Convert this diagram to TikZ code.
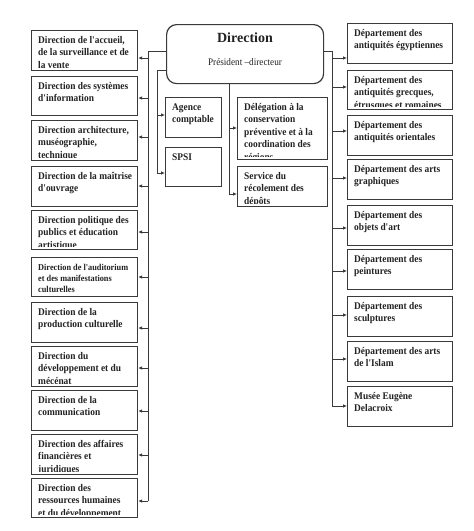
\documentclass[tikz,border=0pt]{standalone}
\usepackage{fontspec}
\setmainfont{Liberation Serif}
\newfontfamily\boxfont[FakeStretch=0.92]{Liberation Serif}
\usetikzlibrary{arrows.meta}
\definecolor{ln}{HTML}{3A3A3A}
\definecolor{tx}{HTML}{222222}
\tikzset{
  boxst/.style={draw=ln, line width=1.2pt, rectangle, inner sep=0pt, fill=white},
  txt/.style={inner sep=0pt, align=left, text=tx, font={\boxfont\fontsize{10.2}{12.5}\selectfont\bfseries}},
  small/.style={font={\boxfont\fontsize{9}{11}\selectfont\bfseries}},
  conn/.style={draw=ln, line width=0.9pt},
  arr/.style={conn, -{Latex[length=4pt,width=3.6pt]}}
}
\newcommand\mybox[7][]{%
  \node[boxst, minimum width=#5pt, minimum height=#6pt, anchor=north west] (#2) at (#3,#4) {};
  \begin{scope}
    \clip ([xshift=1pt,yshift=3.5pt]#2.south west) rectangle ([xshift=-1pt,yshift=-1pt]#2.north east);
    \node[txt, #1, anchor=north west] at ([xshift=7pt,yshift=-4pt]#2.north west) {\rule{0pt}{9pt}#7};
  \end{scope}}
\begin{document}
\begin{tikzpicture}[x=1pt,y=-1pt]
\useasboundingbox[fill=white] (0,0) rectangle (474,531);
% Direction
\node[draw=ln, line width=1.2pt, rounded corners=10pt, minimum width=157pt, minimum height=59pt, anchor=north west, inner sep=0pt] (dir) at (166,24) {};
\node[inner sep=0pt, text=tx, font={\fontsize{14}{15}\selectfont\bfseries}] (dirt) at (245,38) {Direction};
\node[inner sep=0pt, text=tx, font={\boxfont\fontsize{10}{12}\selectfont}] (dirs) at (245,62) {Président –directeur};
% left column
\mybox{l1}{31}{30}{106}{40}{Direction de l'accueil,\\de la surveillance et de\\la vente}
\mybox{l2}{31}{76}{106}{39}{Direction des systèmes\\d'information}
\mybox{l3}{31}{120}{106}{40}{Direction architecture,\\muséographie,\\technique}
\mybox{l4}{31}{166}{106}{40}{Direction de la maîtrise\\d'ouvrage}
\mybox{l5}{31}{210}{106}{39}{Direction politique des\\publics et éducation\\artistique}
\mybox[small]{l6}{31}{257}{106}{39}{Direction de l'auditorium\\et des manifestations\\culturelles}
\mybox{l7}{31}{302}{106}{40}{Direction de la\\production culturelle}
\mybox{l8}{31}{346}{106}{40}{Direction du\\développement et du\\mécénat}
\mybox{l9}{31}{390}{106}{40}{Direction de la\\communication}
\mybox{l10}{31}{434}{106}{40}{Direction des affaires\\financières et\\juridiques}
\mybox{l11}{31}{478}{106}{39}{Direction des\\ressources humaines\\et du développement}
% middle
\mybox{ag}{165}{97}{56}{40}{Agence\\comptable}
\mybox{sp}{165}{147}{56}{39}{SPSI}
\mybox{de}{237}{97}{90}{62}{Délégation à la\\conservation\\préventive et à la\\coordination des\\régions}
\mybox{se}{237}{166}{90}{40}{Service du\\récolement des\\dépôts}
% right column
\mybox{r1}{347}{23}{105}{40}{Département des\\antiquités égyptiennes}
\mybox{r2}{347}{70}{105}{39}{Département des\\antiquités grecques,\\étrusques et romaines}
\mybox{r3}{347}{115}{105}{40}{Département des\\antiquités orientales}
\mybox{r4}{347}{159}{105}{40}{Département des arts\\graphiques}
\mybox{r5}{347}{205}{105}{40}{Département des\\objets d'art}
\mybox{r6}{347}{249}{105}{40}{Département des\\peintures}
\mybox{r7}{347}{296}{105}{40}{Département des\\sculptures}
\mybox{r8}{347}{341}{105}{40}{Département des arts\\de l'Islam}
\mybox{r9}{347}{386}{105}{40}{Musée Eugène\\Delacroix}
% left trunk
\coordinate (LT) at (148,51);
\coordinate (LB) at (148,501);
\draw[conn] (LT -| dir.west) -- (LT) -- (LB);
\foreach \n/\y in {l1/58,l2/98,l3/137,l4/186,l5/232,l6/277,l7/328,l8/368,l9/411,l10/455,l11/501}{
  \coordinate (c\n) at (148,\y);
  \draw[arr] (c\n) -- (c\n -| \n.east);
}
% inner left
\coordinate (IT) at (157,70);
\coordinate (IB) at (157,173);
\draw[conn] (IT -| dir.west) -- (IT) -- (IB);
\coordinate (cag) at (157,115);
\draw[arr] (cag) -- (cag -| ag.west);
\draw[arr] (IB) -- (IB -| sp.west);
% middle
\coordinate (MT) at (229,83);
\coordinate (MB) at (229,194);
\draw[conn] (MT) -- (MB);
\coordinate (cde) at (229,128);
\draw[arr] (cde) -- (cde -| de.west);
\draw[arr] (MB) -- (MB -| se.west);
% right trunk
\coordinate (RT) at (332,51);
\coordinate (RB) at (332,406);
\draw[conn] (RT -| dir.east) -- (RT) -- (RB);
\foreach \n/\y in {r1/58,r2/87,r3/131,r4/178,r5/228,r6/271,r7/315,r8/359,r9/406}{
  \coordinate (c\n) at (332,\y);
  \draw[arr] (c\n) -- (c\n -| \n.west);
}
\end{tikzpicture}
\end{document}
